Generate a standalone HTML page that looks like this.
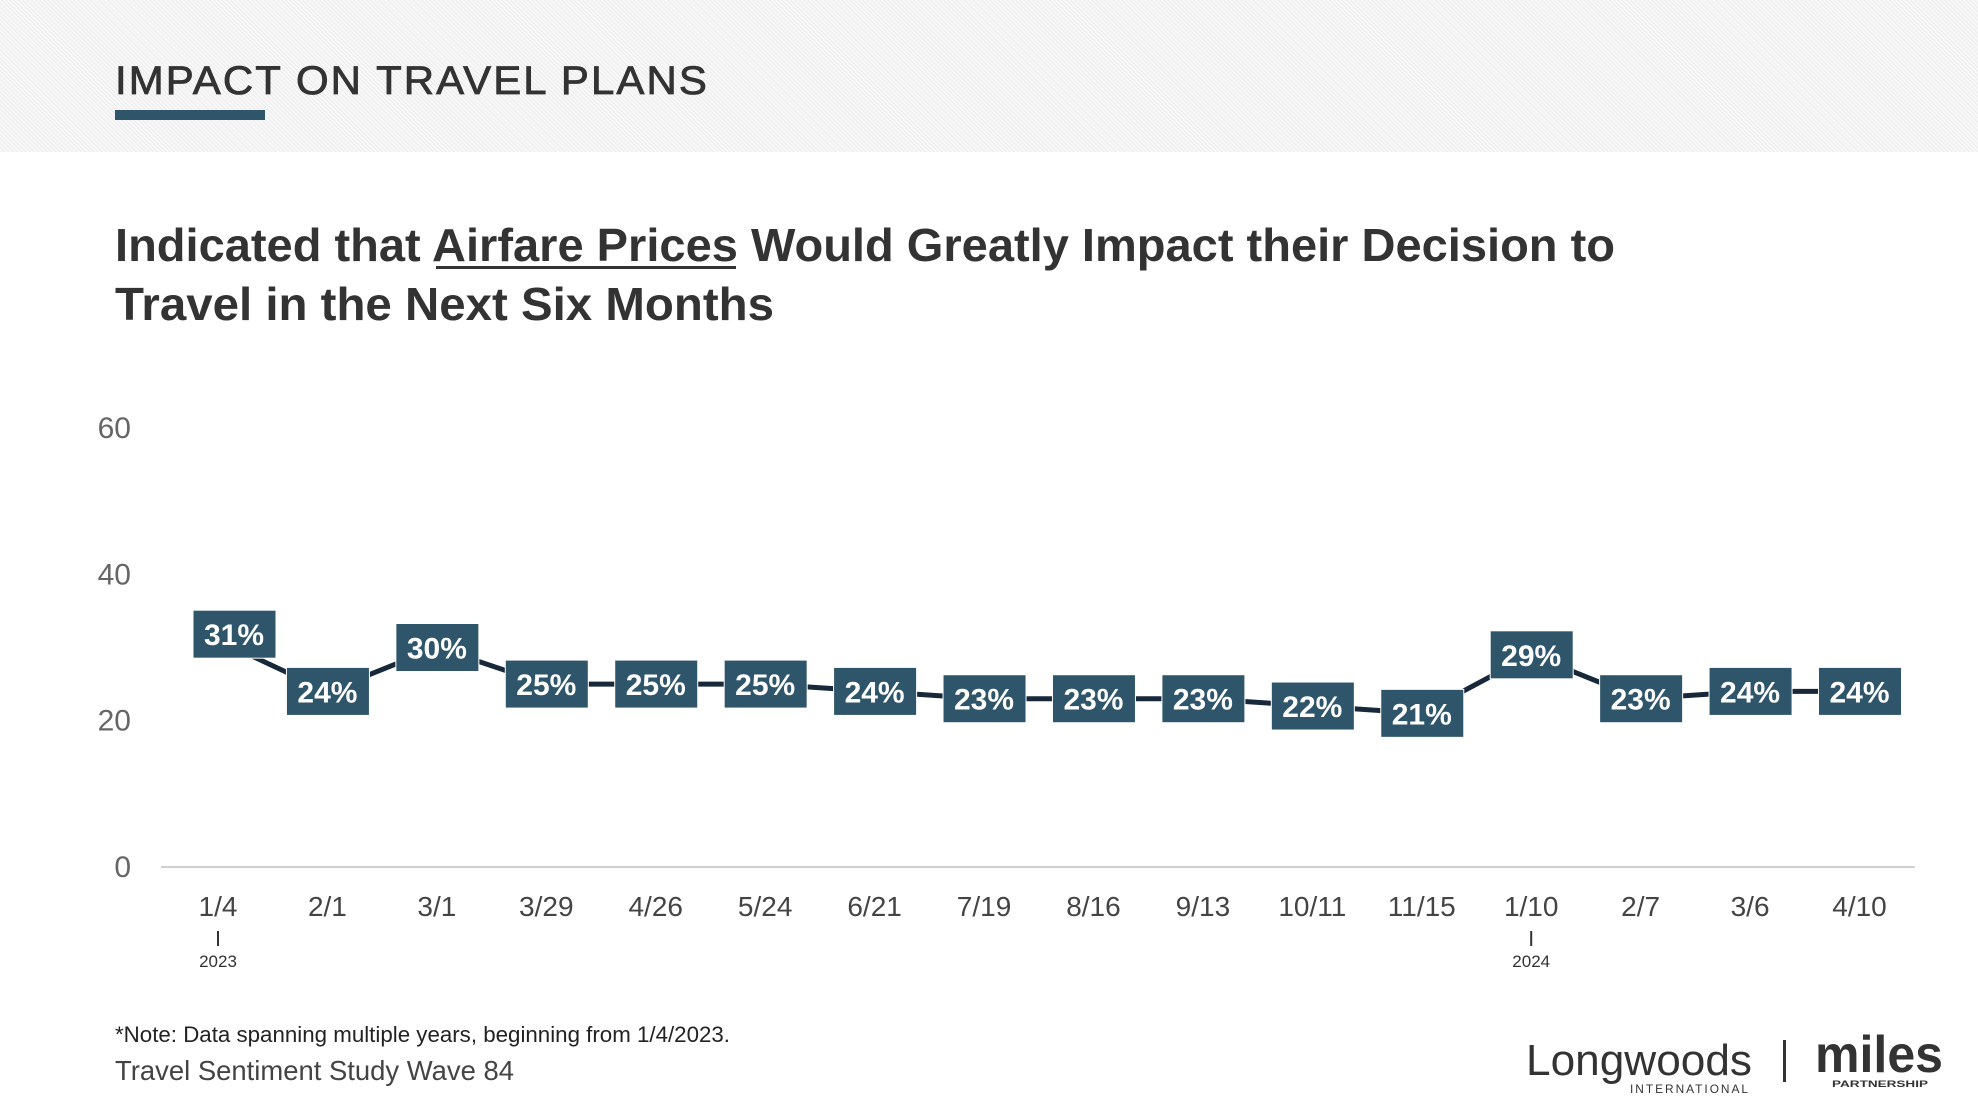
<!DOCTYPE html>
<html><head><meta charset="utf-8"><style>
body{margin:0;width:1978px;height:1098px;overflow:hidden;background:#fff;font-family:"Liberation Sans",sans-serif}
#hdr{position:absolute;left:0;top:0;width:1978px;height:152px;background:repeating-linear-gradient(45deg,#ececec 0 1px,#f8f8f8 1px 3px)}
svg{position:absolute;left:0;top:0}
</style></head><body>
<div id="hdr"></div>
<svg width="1978" height="1098" id="chart">
<text x="115" y="94" font-size="40" fill="#333" stroke="#333" stroke-width="0.8" textLength="594" lengthAdjust="spacingAndGlyphs" letter-spacing="2">IMPACT ON TRAVEL PLANS</text>
<rect x="115" y="110" width="150" height="10" fill="#2e5569"/>
<text x="115" y="261" font-size="46" font-weight="bold" fill="#333" textLength="1500" lengthAdjust="spacingAndGlyphs">Indicated that Airfare Prices Would Greatly Impact their Decision to</text>
<rect x="436" y="266" width="300" height="3" fill="#333"/>
<text x="115" y="320" font-size="46" font-weight="bold" fill="#333" textLength="659" lengthAdjust="spacingAndGlyphs">Travel in the Next Six Months</text>
<g id="plot"></g>
<text x="115" y="1042" font-size="22" fill="#222" textLength="615" lengthAdjust="spacingAndGlyphs">*Note: Data spanning multiple years, beginning from 1/4/2023.</text>
<text x="115" y="1080" font-size="28" fill="#444" textLength="399" lengthAdjust="spacingAndGlyphs">Travel Sentiment Study Wave 84</text>
<g>
<text x="1526" y="1075" font-size="44" fill="#333" textLength="226" lengthAdjust="spacingAndGlyphs">Longwoods</text>
<text x="1630" y="1093" font-size="12" fill="#333" letter-spacing="2" textLength="120" lengthAdjust="spacingAndGlyphs">INTERNATIONAL</text>
</g>
<rect x="1783" y="1040" width="3" height="42" fill="#333"/>
<g>
<text x="1815" y="1072" font-size="52" font-weight="bold" fill="#333" textLength="128" lengthAdjust="spacingAndGlyphs">miles</text>
<text x="1832" y="1087" font-size="9" font-weight="bold" fill="#333" textLength="96" lengthAdjust="spacingAndGlyphs">PARTNERSHIP</text>
</g>
</svg>
<script>
const categories=["1/4","2/1","3/1","3/29","4/26","5/24","6/21","7/19","8/16","9/13","10/11","11/15","1/10","2/7","3/6","4/10"];
const values=[31,24,30,25,25,25,24,23,23,23,22,21,29,23,24,24];
const yTicks=[0,20,40,60];
const yearMarks=[{i:0,label:"2023"},{i:12,label:"2024"}];
const NS="http://www.w3.org/2000/svg";
const g=document.getElementById("plot");
const x=i=>218+i*(1859.5-218)/(categories.length-1);
const y=v=>867-v*(867-428)/60;
function el(t,a,txt){const e=document.createElementNS(NS,t);for(const k in a)e.setAttribute(k,a[k]);if(txt!=null)e.textContent=txt;g.appendChild(e);return e;}
yTicks.forEach(t=>{const e=el("text",{x:131,y:y(t)+10,"font-size":30,fill:"#666","text-anchor":"end"},t);

});
const ax=el("line",{x1:161,x2:1915,y1:867,y2:867,stroke:"#d0d0d0","stroke-width":2});


categories.forEach((c,i)=>{const e=el("text",{x:x(i),y:916,"font-size":28,fill:"#444","text-anchor":"middle"},c);

});
yearMarks.forEach(m=>{const l=el("line",{x1:x(m.i),x2:x(m.i),y1:931,y2:946,stroke:"#333","stroke-width":2});


const t=el("text",{x:x(m.i),y:967,"font-size":17,fill:"#333","text-anchor":"middle"},m.label);

});
const line=el("polyline",{points:values.map((v,i)=>x(i)+","+y(v)).join(" "),fill:"none",stroke:"#17283a","stroke-width":5});


values.forEach((v,i)=>{const dx=i===0?16:0,dy=i===0?-6:0;
const r=el("rect",{x:x(i)-41+dx,y:y(v)-24+dy,width:83,height:48,fill:"#2e5569",stroke:"#fff","stroke-width":1});


const t=el("text",{x:x(i)+dx,y:y(v)+11+dy,"font-size":30,"font-weight":"bold",fill:"#fff","text-anchor":"middle"},v+"%");

});
</script>
</body></html>
